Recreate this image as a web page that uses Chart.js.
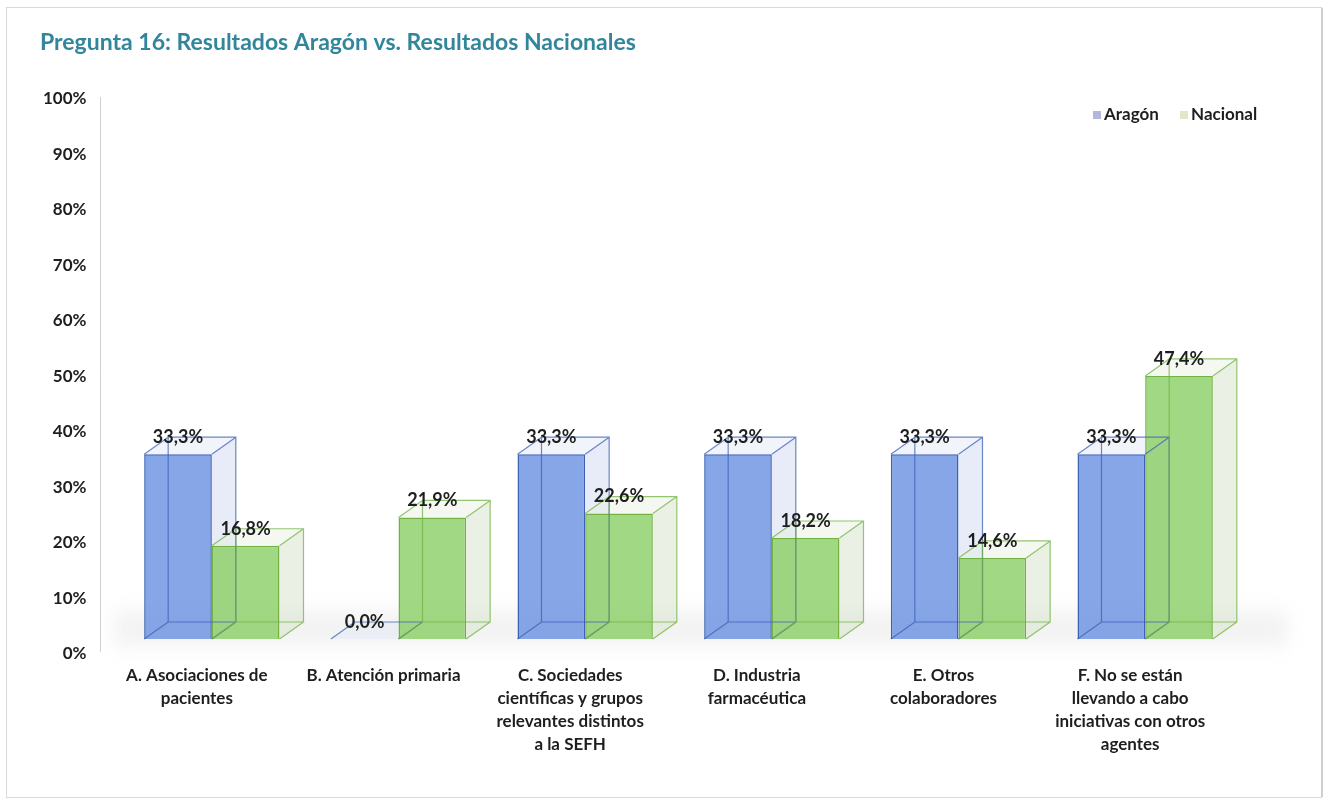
<!DOCTYPE html>
<html>
<head>
<meta charset="utf-8">
<script src="https://cdn.jsdelivr.net/npm/chart.js@4.4.1/dist/chart.umd.min.js"></script>
<style>
  html, body { margin: 0; padding: 0; background: #fff; }
</style>
</head>
<body>
<canvas id="chart" width="1330" height="803"></canvas>
<script>
const categories = [
  ["A. Asociaciones de", "pacientes"],
  ["B. Atención primaria"],
  ["C. Sociedades", "científicas y grupos", "relevantes distintos", "a la SEFH"],
  ["D. Industria", "farmacéutica"],
  ["E. Otros", "colaboradores"],
  ["F. No se están", "llevando a cabo", "iniciativas con otros", "agentes"]
];
const seriesNames = ["Aragón", "Nacional"];
const aragon = [33.3, 0.0, 33.3, 33.3, 33.3, 33.3];
const nacional = [16.8, 21.9, 22.6, 18.2, 14.6, 47.4];
const yTicks = [0, 10, 20, 30, 40, 50, 60, 70, 80, 90, 100];

// depth of the fake 3d boxes
const DX = 24, DY = -17;
const look = [
  { front: "rgba(104,144,226,0.8)", edge: "#3c60b4", side: "rgba(212,220,242,0.55)", top: "rgba(225,231,247,0.45)", key: "#b3b8da" },
  { front: "rgba(138,206,100,0.8)", edge: "#72b243", side: "rgba(216,230,206,0.55)", top: "rgba(230,240,222,0.45)", key: "#dde9c9" }
];
const legendX = [1093, 1180];

function fmt(v) {
  return v.toFixed(1).replace(".", ",") + "%";
}

const box3d = {
  id: "box3d",
  beforeDraw(chart) {
    const ctx = chart.ctx, a = chart.chartArea;
    ctx.save();
    // frame
    ctx.strokeStyle = "#dadada";
    ctx.lineWidth = 1;
    ctx.strokeRect(6.5, 7.5, 1315, 790);
    ctx.strokeStyle = "#cfcfcf";
    ctx.lineWidth = 2;
    ctx.beginPath();
    ctx.moveTo(1322, 8); ctx.lineTo(1322, 797);
    ctx.stroke();
    // floor shadow
    ctx.filter = "blur(9px)";
    ctx.fillStyle = "rgba(200,200,200,0.22)";
    ctx.beginPath();
    ctx.moveTo(a.left - 5, a.bottom + 8);
    ctx.lineTo(a.right + DX + 25, a.bottom + 8);
    ctx.lineTo(a.right + DX + 25, a.bottom + DY - 12);
    ctx.lineTo(a.left - 5, a.bottom + DY - 12);
    ctx.closePath();
    ctx.fill();
    ctx.filter = "none";
    // value axis line
    ctx.strokeStyle = "#d0d0d0";
    ctx.lineWidth = 1;
    ctx.beginPath();
    ctx.moveTo(100.5, 97);
    ctx.lineTo(100.5, 652);
    ctx.stroke();
    ctx.restore();
  },
  beforeDatasetsDraw(chart) {
    const ctx = chart.ctx;
    ctx.save();
    chart.data.datasets.forEach((ds, di) => {
      const meta = chart.getDatasetMeta(di);
      meta.data.forEach(bar => {
        const p = bar.getProps(["x", "y", "base", "width"], true);
        const L = p.x - p.width / 2, R = p.x + p.width / 2, T = p.y, B = p.base;
        ctx.fillStyle = look[di].side;
        ctx.beginPath();
        ctx.moveTo(R, T); ctx.lineTo(R + DX, T + DY); ctx.lineTo(R + DX, B + DY); ctx.lineTo(R, B);
        ctx.closePath(); ctx.fill();
        ctx.fillStyle = look[di].top;
        ctx.beginPath();
        ctx.moveTo(L, T); ctx.lineTo(L + DX, T + DY); ctx.lineTo(R + DX, T + DY); ctx.lineTo(R, T);
        ctx.closePath(); ctx.fill();
      });
    });
    ctx.restore();
  },
  afterDatasetsDraw(chart) {
    const ctx = chart.ctx;
    ctx.save();
    chart.data.datasets.forEach((ds, di) => {
      const meta = chart.getDatasetMeta(di);
      meta.data.forEach(bar => {
        const p = bar.getProps(["x", "y", "base", "width"], true);
        const L = p.x - p.width / 2, R = p.x + p.width / 2, T = p.y, B = p.base;
        ctx.strokeStyle = look[di].edge;
        ctx.globalAlpha = 0.75;
        ctx.lineWidth = 1.2;
        ctx.beginPath();
        ctx.rect(L + DX, T + DY, R - L, B - T);
        ctx.moveTo(L, T); ctx.lineTo(L + DX, T + DY);
        ctx.moveTo(R, T); ctx.lineTo(R + DX, T + DY);
        ctx.moveTo(L, B); ctx.lineTo(L + DX, B + DY);
        ctx.moveTo(R, B); ctx.lineTo(R + DX, B + DY);
        ctx.stroke();
        ctx.globalAlpha = 1;
      });
    });
    // value labels
    ctx.font = "bold 18px Lato";
    ctx.fillStyle = "#1e1e1e";
    ctx.textAlign = "center";
    ctx.textBaseline = "middle";
    chart.data.datasets.forEach((ds, di) => {
      chart.getDatasetMeta(di).data.forEach((bar, i) => {
        const p = bar.getProps(["x", "y"], true);
        ctx.fillText(fmt(ds.data[i]), p.x, p.y + DY);
      });
    });
    ctx.restore();
  },
  afterDraw(chart) {
    const ctx = chart.ctx;
    ctx.save();
    ctx.font = "bold 17px Lato";
    ctx.textBaseline = "middle";
    ctx.textAlign = "left";
    const y = 115;
    chart.data.datasets.forEach((ds, di) => {
      const x = legendX[di];
      ctx.fillStyle = look[di].key;
      ctx.fillRect(x, y - 4, 8, 8);
      ctx.fillStyle = "#1e1e1e";
      ctx.fillText(ds.label, x + 11, y);
    });
    ctx.restore();
  }
};

new Chart(document.getElementById("chart"), {
  type: "bar",
  data: {
    labels: categories,
    datasets: [
      {
        label: seriesNames[0],
        data: aragon,
        backgroundColor: look[0].front,
        borderColor: look[0].edge,
        borderWidth: 1.5
      },
      {
        label: seriesNames[1],
        data: nacional,
        backgroundColor: look[1].front,
        borderColor: look[1].edge,
        borderWidth: 1.5
      }
    ]
  },
  options: {
    responsive: false,
    animation: false,
    devicePixelRatio: 1,
    layout: { padding: { top: 23, left: 40, right: 91.5, bottom: 0 } },
    datasets: { bar: { categoryPercentage: 0.725, barPercentage: 1.0 } },
    plugins: {
      legend: { display: false },
      tooltip: { enabled: false },
      title: {
        display: true,
        text: "Pregunta 16: Resultados Aragón vs. Resultados Nacionales",
        align: "start",
        color: "#31869b",
        font: { family: "Lato", size: 23, weight: "bold", lineHeight: 1.2 },
        padding: { top: 6, bottom: 27.4 }
      }
    },
    scales: {
      x: {
        grid: { display: false, drawTicks: false },
        border: { display: false },
        ticks: {
          autoSkip: false,
          maxRotation: 0,
          padding: 25.5,
          labelOffset: -15,
          color: "#1e1e1e",
          font: { family: "Lato", size: 17, weight: "bold", lineHeight: 1.35 }
        },
        afterFit(scale) { scale.height = 164; }
      },
      y: {
        min: 0,
        max: 100,
        grid: { display: false, drawTicks: false },
        border: { display: false },
        afterBuildTicks(scale) { scale.ticks = yTicks.map(v => ({ value: v })); },
        ticks: {
          padding: 32,
          labelOffset: 15,
          color: "#1e1e1e",
          font: { family: "Lato", size: 17, weight: "bold" },
          callback: v => v + "%"
        },
        afterFit(scale) { scale.width = 78.5; }
      }
    }
  },
  plugins: [box3d]
});
</script>
</body>
</html>
